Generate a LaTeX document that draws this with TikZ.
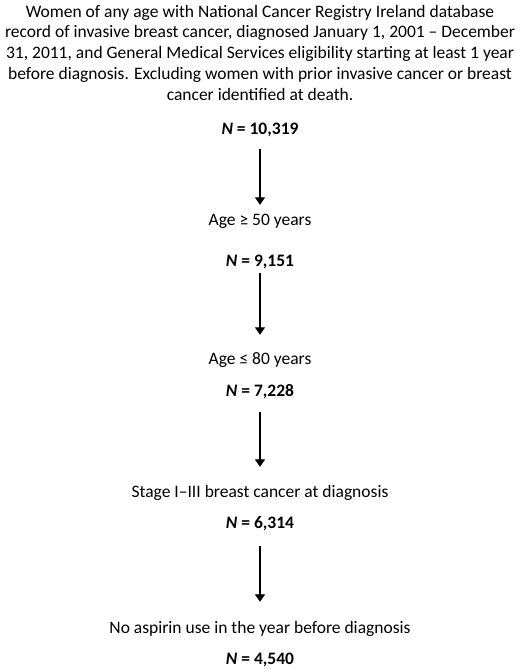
\documentclass[tikz,border=0pt]{standalone}
\usepackage{fontspec}
\setmainfont{Carlito}
\usetikzlibrary{arrows.meta,positioning}
\begin{document}
\begin{tikzpicture}[
    x=1pt, y=1pt,
    crit/.style={font=\fontsize{17.5}{20.7}\selectfont, align=center, inner sep=0pt, text height=11pt, text depth=0pt, anchor=base},
    count/.style={crit, font=\fontsize{17.5}{20.7}\selectfont\bfseries},
    flow/.style={-{Triangle[width=10pt,length=7.5pt]}, line width=1.3pt}
]
\useasboundingbox (0,0) rectangle (520,-669);

% base anchor of a multi-line node sits on its last line
\node[crit, text height=, text depth=] (cohort) at (260,-100) {Women of any age with National Cancer Registry Ireland database\\
    record of invasive breast cancer, diagnosed January 1, 2001 – December\\
    31, 2011, and General Medical Services eligibility starting at least 1 year\\
    before diagnosis. Excluding women with prior invasive cancer or breast\\
    cancer identified at death.};
\node[count] (n1) at (260,-134) {\textit{N} = 10,319};
\node[crit] (age50) at (260,-225) {Age ≥ 50 years};
\node[count] (n2) at (260,-266) {\textit{N} = 9,151};
\node[crit] (age80) at (260,-364) {Age ≤ 80 years};
\node[count] (n3) at (260,-396) {\textit{N} = 7,228};
\node[crit] (stage) at (260,-497) {Stage I–III breast cancer at diagnosis};
\node[count] (n4) at (260,-528) {\textit{N} = 6,314};
\node[crit] (noasp) at (260,-633) {No aspirin use in the year before diagnosis};
\node[count] (n5) at (260,-664) {\textit{N} = 4,540};

\draw[flow, shorten <=15pt, shorten >=9pt] (n1.south) -- (age50.north);
\draw[flow, shorten <=7pt, shorten >=18pt] (n2.south) -- (age80.north);
\draw[flow, shorten <=16pt, shorten >=19pt] (n3.south) -- (stage.north);
\draw[flow, shorten <=18pt, shorten >=20pt] (n4.south) -- (noasp.north);

\end{tikzpicture}
\end{document}
